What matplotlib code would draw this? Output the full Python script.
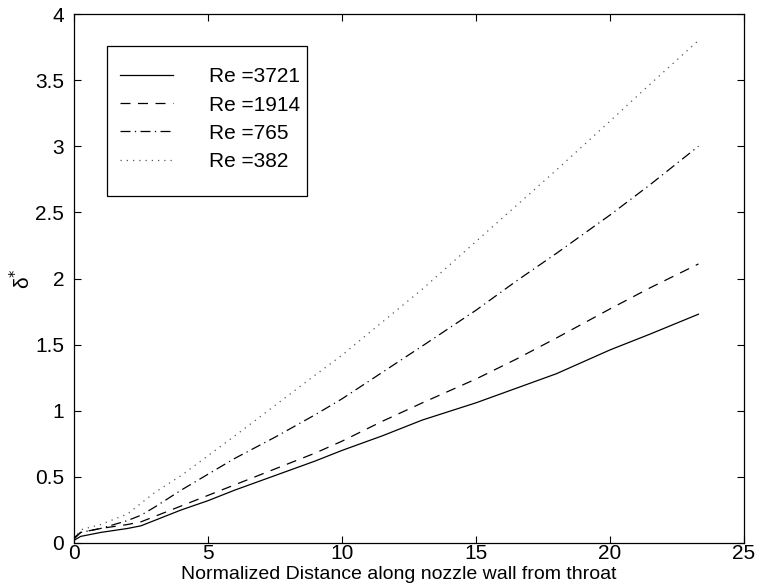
import numpy as np
import matplotlib
matplotlib.use('Agg')
import matplotlib.pyplot as plt
from matplotlib.patches import Rectangle

plt.rcParams['font.family'] = ['Liberation Sans', 'DejaVu Sans']

# distance along the wall (same stations for every run)
dist = [0, 0.25, 1, 2, 2.5, 3, 4, 5, 6, 7.5, 9, 10, 11.5, 13, 15, 16.5, 18, 20, 21.5, 23.3]

re_labels = ['Re =3721', 'Re =1914', 'Re =765', 'Re =382']

d_3721 = [0.02, 0.05, 0.08, 0.11, 0.13, 0.17, 0.25, 0.32, 0.40, 0.51, 0.62, 0.70,
          0.81, 0.93, 1.06, 1.17, 1.28, 1.46, 1.58, 1.73]
d_1914 = [0.03, 0.08, 0.11, 0.14, 0.16, 0.20, 0.28, 0.36, 0.44, 0.56, 0.68, 0.77,
          0.92, 1.06, 1.24, 1.39, 1.55, 1.77, 1.93, 2.11]
d_765 = [0.04, 0.08, 0.11, 0.17, 0.21, 0.27, 0.40, 0.52, 0.64, 0.80, 0.97, 1.09,
         1.29, 1.49, 1.76, 1.98, 2.19, 2.48, 2.71, 3.00]
d_382 = [0.03, 0.10, 0.14, 0.22, 0.30, 0.38, 0.51, 0.66, 0.81, 1.04, 1.27, 1.42,
         1.67, 1.92, 2.28, 2.55, 2.82, 3.19, 3.47, 3.80]

fig = plt.figure(figsize=(7.62, 5.88), dpi=100)
ax = fig.add_axes([74/762, 45/588, 670/762, 529/588])

ax.plot(dist, d_3721, color='black', lw=0.9, linestyle='-', label=re_labels[0])
ax.plot(dist, d_1914, color='black', lw=0.9, linestyle=(0, (8, 6)), label=re_labels[1])
ax.plot(dist, d_765, color='black', lw=0.9, linestyle=(0, (8, 3.5, 1, 3.5)), label=re_labels[2])
ax.plot(dist, d_382, color='#555555', lw=0.9, linestyle=(0, (1, 4)), label=re_labels[3])

ax.set_xlim(0, 25)
ax.set_ylim(0, 4)
ax.set_xticks([0, 5, 10, 15, 20, 25])
ax.set_yticks([0, 0.5, 1, 1.5, 2, 2.5, 3, 3.5, 4])
ax.set_yticklabels(['0', '0.5', '1', '1.5', '2', '2.5', '3', '3.5', '4'])
ax.tick_params(direction='in', top=True, right=True, length=5, width=0.8,
               labelsize=15)
ax.tick_params(axis='x', pad=1)
ax.tick_params(axis='y', pad=7)
for s in ax.spines.values():
    s.set_linewidth(0.9)

ax.set_xlabel('Normalized Distance along nozzle wall from throat', fontsize=14)
ax.xaxis.set_label_coords(0.484, -0.044)
ax.set_ylabel('δ$^{*}$', fontsize=15, labelpad=1)

# legend box drawn separately so it keeps the extra room at the bottom
leg = ax.legend(loc='upper left', bbox_to_anchor=(0.0687, 0.899), fontsize=15,
                frameon=False, handlelength=2.55, handletextpad=1.7,
                labelspacing=0.44, borderpad=0, borderaxespad=0)
ax.add_patch(Rectangle((0.0493, 0.656), 0.2985, 0.2835, transform=ax.transAxes,
                       fill=False, edgecolor='black', lw=0.9, zorder=5))

fig.savefig('out.png', dpi=100)
